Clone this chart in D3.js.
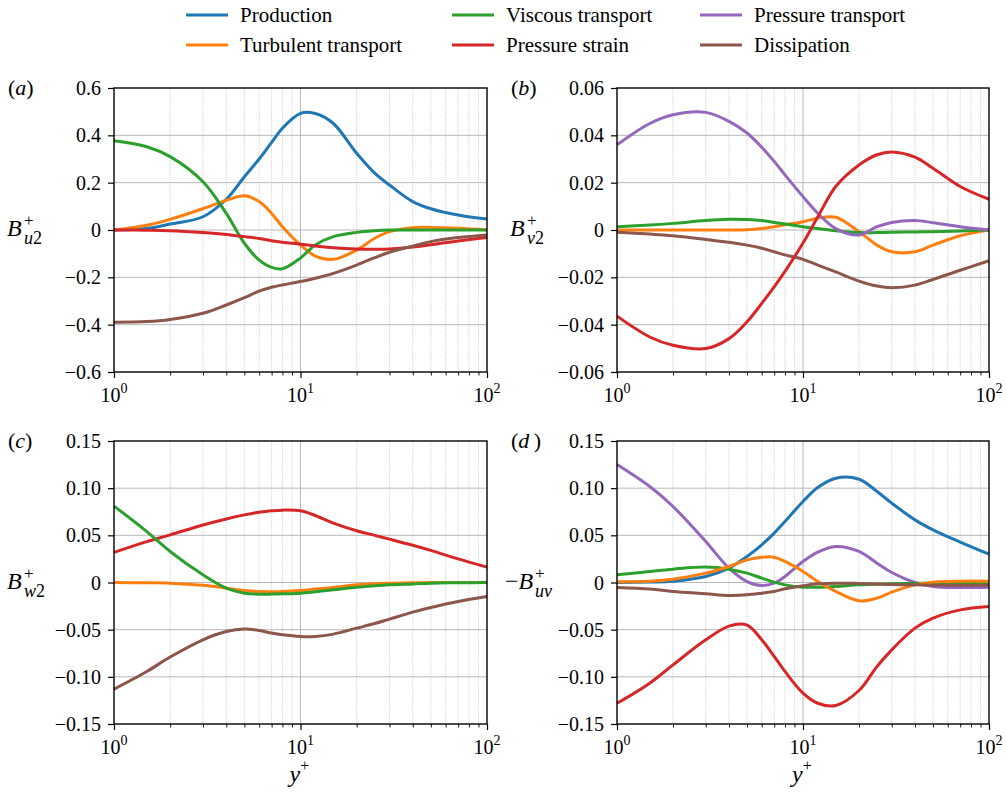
<!DOCTYPE html>
<html>
<head>
<meta charset="utf-8">
<script src="https://cdn.jsdelivr.net/npm/d3@7"></script>
</head>
<body style="margin:0">
<svg id="s" width="1006" height="792"></svg>
<script>
// Wall-normal positions y+ shared by every budget profile
const yPlus = [1, 1.5, 2, 3, 4, 5, 6, 7, 8, 10, 12, 15, 20, 25, 30, 40, 50, 70, 100];

// Budget term names and colours (legend order)
const termNames = ["Production", "Turbulent transport", "Viscous transport",
                   "Pressure strain", "Pressure transport", "Dissipation"];
const termColors = ["#1f77b4", "#ff7f0e", "#2ca02c", "#d62728", "#9467bd", "#8c564b"];

// (a) streamwise normal stress budget B+_u2
const uuProduction   = [0, 0.006, 0.025, 0.056, 0.13, 0.225, 0.30, 0.37, 0.43, 0.493, 0.492, 0.45, 0.324, 0.24, 0.19, 0.12, 0.09, 0.063, 0.046];
const uuTurbulent    = [0, 0.02, 0.045, 0.09, 0.125, 0.145, 0.12, 0.07, 0.014, -0.063, -0.11, -0.124, -0.085, -0.035, -0.007, 0.01, 0.011, 0.007, 0.0];
const uuViscous      = [0.377, 0.352, 0.31, 0.204, 0.07, -0.056, -0.127, -0.158, -0.164, -0.118, -0.063, -0.028, -0.01, -0.003, 0, 0, 0, 0, 0];
const uuPressStrain  = [0, -0.001, -0.003, -0.011, -0.019, -0.028, -0.036, -0.045, -0.052, -0.06, -0.068, -0.075, -0.08, -0.081, -0.08, -0.072, -0.062, -0.046, -0.032];
const uuDissipation  = [-0.39, -0.387, -0.378, -0.352, -0.317, -0.286, -0.258, -0.242, -0.232, -0.218, -0.204, -0.183, -0.148, -0.117, -0.094, -0.068, -0.049, -0.032, -0.021];

// (b) wall-normal normal stress budget B+_v2
const vvTurbulent    = [0, 0, 0, 0, 0, 0.0001, 0.0006, 0.0014, 0.0022, 0.0035, 0.005, 0.0054, -0.0007, -0.0064, -0.0092, -0.0092, -0.0064, -0.0024, 0];
const vvViscous      = [0.0014, 0.0021, 0.0028, 0.004, 0.0045, 0.0044, 0.004, 0.0032, 0.0025, 0.0014, 0.0006, -0.0003, -0.0011, -0.0011, -0.001, -0.0008, -0.0007, -0.0004, 0];
const vvPressStrain  = [-0.0364, -0.0452, -0.0487, -0.0501, -0.0459, -0.0388, -0.031, -0.024, -0.0175, -0.0055, 0.0055, 0.0184, 0.0275, 0.0318, 0.033, 0.0308, 0.0261, 0.0184, 0.013];
const vvPressTrans   = [0.036, 0.045, 0.0487, 0.0497, 0.0459, 0.041, 0.035, 0.029, 0.0233, 0.0141, 0.0071, 0.0006, -0.0021, 0.0014, 0.0032, 0.004, 0.0031, 0.0014, 0];
const vvDissipation  = [-0.001, -0.0017, -0.0024, -0.004, -0.0052, -0.0064, -0.0077, -0.0092, -0.0105, -0.0124, -0.0148, -0.0177, -0.0216, -0.0237, -0.0244, -0.0233, -0.0209, -0.017, -0.013];

// (c) spanwise normal stress budget B+_w2
const wwTurbulent    = [0, -0.0003, -0.0007, -0.003, -0.006, -0.0085, -0.0095, -0.0097, -0.0095, -0.0085, -0.007, -0.0053, -0.0025, -0.0012, -0.0007, -0.0003, -0.0001, 0, 0];
const wwViscous      = [0.081, 0.054, 0.0329, 0.0081, -0.006, -0.0113, -0.0124, -0.0123, -0.012, -0.0113, -0.0098, -0.0078, -0.005, -0.0035, -0.0025, -0.0015, -0.0007, -0.0003, 0];
const wwPressStrain  = [0.032, 0.0434, 0.0505, 0.061, 0.0674, 0.0717, 0.0745, 0.076, 0.0767, 0.076, 0.071, 0.0629, 0.0548, 0.050, 0.046, 0.0395, 0.034, 0.025, 0.0163];
const wwDissipation  = [-0.113, -0.0943, -0.079, -0.0607, -0.052, -0.0494, -0.0508, -0.0536, -0.0554, -0.0572, -0.0572, -0.0547, -0.0484, -0.0435, -0.0388, -0.0314, -0.0265, -0.0201, -0.0148];

// (d) Reynolds shear stress budget -B+_uv
const uvProduction   = [0, 0.0005, 0.0014, 0.0064, 0.0152, 0.0276, 0.04, 0.0523, 0.0647, 0.0859, 0.1007, 0.1106, 0.1095, 0.0965, 0.0841, 0.0664, 0.0558, 0.0428, 0.03];
const uvTurbulent    = [0.0007, 0.0014, 0.0035, 0.0099, 0.017, 0.024, 0.0268, 0.0268, 0.0223, 0.0117, 0.0011, -0.0095, -0.0194, -0.0166, -0.0102, -0.0025, 0.0004, 0.0014, 0.0014];
const uvViscous      = [0.0081, 0.0117, 0.0141, 0.0163, 0.0141, 0.0099, 0.0046, 0.0004, -0.0025, -0.005, -0.005, -0.0042, -0.0025, -0.0018, -0.0014, -0.001, -0.0007, -0.0007, -0.0007];
const uvPressStrain  = [-0.128, -0.1067, -0.0873, -0.0608, -0.0462, -0.0452, -0.0608, -0.0784, -0.0943, -0.1173, -0.128, -0.1304, -0.1145, -0.089, -0.0714, -0.0484, -0.0378, -0.029, -0.0254];
const uvPressTrans   = [0.125, 0.1017, 0.0806, 0.0435, 0.0152, 0.001, -0.0032, -0.0007, 0.0064, 0.0223, 0.0322, 0.0382, 0.0329, 0.0205, 0.0106, 0, -0.0042, -0.0053, -0.005];
const uvDissipation  = [-0.0053, -0.007, -0.0095, -0.012, -0.0138, -0.0131, -0.0113, -0.0095, -0.0067, -0.0035, -0.0014, -0.0007, -0.001, -0.0015, -0.0021, -0.0025, -0.0028, -0.0028, -0.0028];

// Axis tick values
const ticksA = [-0.6, -0.4, -0.2, 0, 0.2, 0.4, 0.6];
const ticksB = [-0.06, -0.04, -0.02, 0, 0.02, 0.04, 0.06];
const ticksCD = [-0.15, -0.10, -0.05, 0, 0.05, 0.10, 0.15];
const xMajor = [1, 10, 100];
const xMinor = [2, 3, 4, 5, 6, 7, 8, 9, 20, 30, 40, 50, 60, 70, 80, 90];

const FONT = "Liberation Serif";

const panels = [
  { tag: "a", box: [114, 487, 88, 372], ticks: ticksA, digits: 1, label: { pre: "", sub: "u", subTail: "2" },
    series: [[0, uuProduction], [1, uuTurbulent], [2, uuViscous], [3, uuPressStrain], [5, uuDissipation]], xTitle: false },
  { tag: "b", box: [617, 989, 88, 372], ticks: ticksB, digits: 2, label: { pre: "", sub: "v", subTail: "2" },
    series: [[1, vvTurbulent], [2, vvViscous], [5, vvDissipation], [4, vvPressTrans], [3, vvPressStrain]], xTitle: false },
  { tag: "c", box: [114, 487, 441, 724], ticks: ticksCD, digits: 2, label: { pre: "", sub: "w", subTail: "2" },
    series: [[3, wwPressStrain], [5, wwDissipation], [1, wwTurbulent], [2, wwViscous]], xTitle: true },
  { tag: "d", box: [617, 989, 441, 724], ticks: ticksCD, digits: 2, label: { pre: "\u2212", sub: "uv", subTail: "" },
    series: [[0, uvProduction], [4, uvPressTrans], [2, uvViscous], [1, uvTurbulent], [5, uvDissipation], [3, uvPressStrain]], xTitle: true }
];

const svg = d3.select("#s");

function fmtTick(v, digits) {
  if (Math.abs(v) < 1e-12) return "0";
  return d3.format("." + digits + "f")(v).replace("-", "\u2212");
}

// text helper: every label carries the serif face directly
function addText(parent, x, y, size) {
  return parent.append("text").attr("x", x).attr("y", y)
    .attr("font-family", FONT).attr("font-size", size).attr("fill", "#000");
}

panels.forEach(p => {
  const [x0, x1, y0, y1] = p.box;
  const x = d3.scaleLog().domain([1, 100]).range([x0, x1]);
  const ext = p.ticks[p.ticks.length - 1];
  const y = d3.scaleLinear().domain([-ext, ext]).range([y1, y0]);
  const g = svg.append("g");

  // minor vertical grid (dotted)
  g.append("g").selectAll("line").data(xMinor).join("line")
    .attr("x1", d => x(d)).attr("x2", d => x(d)).attr("y1", y0).attr("y2", y1)
    .attr("stroke", "#c4c4c4").attr("stroke-width", 0.8).attr("stroke-dasharray", "1.2,1.2");
  // major grid
  g.append("g").selectAll("line").data(xMajor.slice(1, 2)).join("line")
    .attr("x1", d => x(d)).attr("x2", d => x(d)).attr("y1", y0).attr("y2", y1)
    .attr("stroke", "#b0b0b0").attr("stroke-width", 0.9);
  g.append("g").selectAll("line").data(p.ticks.slice(1, -1)).join("line")
    .attr("x1", x0).attr("x2", x1).attr("y1", d => y(d)).attr("y2", d => y(d))
    .attr("stroke", "#b0b0b0").attr("stroke-width", 0.9);

  // curves
  const line = d3.line().x((d, i) => x(yPlus[i])).y(d => y(d)).curve(d3.curveCatmullRom.alpha(0.5));
  p.series.forEach(([k, vals]) => {
    g.append("path").datum(vals).attr("d", line)
      .attr("fill", "none").attr("stroke", termColors[k]).attr("stroke-width", 3)
      .attr("stroke-linejoin", "round").attr("stroke-linecap", "butt");
  });

  // y axis ticks (labels drawn separately)
  const yAxis = d3.axisLeft(y).tickValues(p.ticks).tickSize(6).tickFormat("");
  const ya = g.append("g").attr("transform", `translate(${x0},0)`).call(yAxis);
  ya.select(".domain").remove();
  ya.selectAll("text").remove();
  ya.selectAll("line").attr("stroke", "#000").attr("stroke-width", 1.2);
  p.ticks.forEach(v => {
    addText(g, x0 - 13, y(v) + 7, 20).attr("text-anchor", "end").text(fmtTick(v, p.digits));
  });

  // x axis: major and minor ticks
  const xa = d3.axisBottom(x).tickValues(xMajor).tickSize(6).tickFormat("");
  const xg = g.append("g").attr("transform", `translate(0,${y1})`).call(xa);
  xg.select(".domain").remove();
  xg.selectAll("text").remove();
  xg.selectAll("line").attr("stroke", "#000").attr("stroke-width", 1.2);
  const xm = d3.axisBottom(x).tickValues(xMinor).tickSize(3.5).tickFormat("");
  const xmg = g.append("g").attr("transform", `translate(0,${y1})`).call(xm);
  xmg.select(".domain").remove();
  xmg.selectAll("text").remove();
  xmg.selectAll("line").attr("stroke", "#000").attr("stroke-width", 0.9);

  // x tick labels 10^n
  xMajor.forEach((v, i) => {
    const t = addText(g, x(v), y1 + 30, 20).attr("text-anchor", "middle");
    t.append("tspan").text("10");
    t.append("tspan").text(String(i)).attr("font-size", 14).attr("dy", -9);
  });

  // frame
  g.append("rect").attr("x", x0).attr("y", y0).attr("width", x1 - x0).attr("height", y1 - y0)
    .attr("fill", "none").attr("stroke", "#000").attr("stroke-width", 1.4);

  // panel tag
  const tg = addText(g, x0 - 106, y0 + 7, 22);
  tg.append("tspan").text("(");
  tg.append("tspan").text(p.tag).attr("font-style", "italic");
  tg.append("tspan").text(p.tag === "d" ? "\u2009)" : ")");

  // y label: B with superscript + and subscript component
  const ly = y(0) + 6;
  const lx = p.label.pre ? x0 - 112 : x0 - 107;
  const lt = addText(g, lx, ly, 24);
  if (p.label.pre) lt.append("tspan").text(p.label.pre);
  lt.append("tspan").text("B").attr("font-style", "italic");
  const bEnd = lx + (p.label.pre ? 30 : 17);
  lt.append("tspan").text("+").attr("font-size", 17).attr("x", bEnd).attr("y", ly - 10);
  lt.append("tspan").text(p.label.sub).attr("font-style", "italic").attr("font-size", 18).attr("x", bEnd).attr("y", ly + 8);
  if (p.label.subTail) lt.append("tspan").text(p.label.subTail).attr("font-size", 18);

  // x title
  if (p.xTitle) {
    const xt = addText(g, (x0 + x1) / 2 - 11, 782, 24);
    xt.append("tspan").text("y").attr("font-style", "italic");
    xt.append("tspan").text("+").attr("font-size", 16).attr("dy", -11);
  }
});

// legend: three columns of two entries
const legendCols = [186, 452, 700];
const legendRows = [15, 45];
termNames.forEach((name, i) => {
  const cx = legendCols[Math.floor(i / 2)];
  const cy = legendRows[i % 2];
  svg.append("line").attr("x1", cx).attr("x2", cx + 42).attr("y1", cy).attr("y2", cy)
    .attr("stroke", termColors[i]).attr("stroke-width", 3);
  addText(svg, cx + 54, cy + 7, 21).text(name);
});
</script>
</body>
</html>
